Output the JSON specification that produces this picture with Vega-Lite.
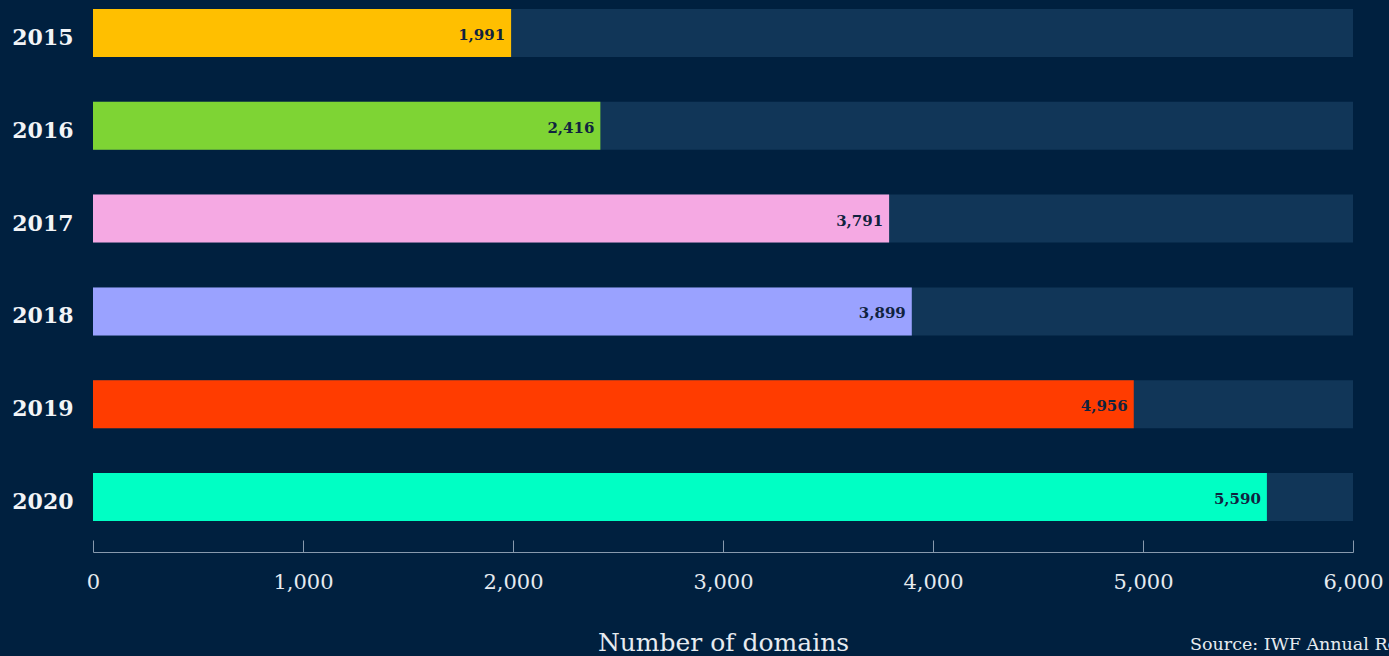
{
  "$schema": "https://vega.github.io/schema/vega-lite/v6.json",
  "width": 1260,
  "height": 530,
  "autosize": {"type": "none"},
  "padding": {"left": 93, "top": 0, "right": 36, "bottom": 126},
  "background": "#00203f",
  "config": {
    "view": {"stroke": null},
    "font": "DejaVu Serif"
  },
  "title": {
    "text": "Source: IWF Annual Report 2020",
    "orient": "bottom",
    "anchor": "start",
    "frame": "group",
    "dx": 1097,
    "offset": -19,
    "fontSize": 17.5,
    "fontWeight": "normal",
    "color": "#e6ebf0",
    "font": "DejaVu Serif"
  },
  "data": {
    "values": [
      {"year": "2015", "domains": 1991},
      {"year": "2016", "domains": 2416},
      {"year": "2017", "domains": 3791},
      {"year": "2018", "domains": 3899},
      {"year": "2019", "domains": 4956},
      {"year": "2020", "domains": 5590}
    ]
  },
  "encoding": {
    "y": {
      "field": "year",
      "type": "ordinal",
      "scale": {"paddingInner": 0.483, "paddingOuter": 0.097},
      "axis": {
        "title": null,
        "domain": false,
        "ticks": false,
        "labelPadding": 20,
        "labelOffset": 5,
        "labelFontSize": 22,
        "labelFontWeight": "bold",
        "labelColor": "#f2f4f7",
        "labelFont": "DejaVu Serif"
      }
    }
  },
  "layer": [
    {
      "mark": {"type": "bar", "color": "#113658"},
      "encoding": {
        "x": {"datum": 6000, "type": "quantitative"}
      }
    },
    {
      "mark": {"type": "bar"},
      "encoding": {
        "x": {
          "field": "domains",
          "type": "quantitative",
          "scale": {"domain": [0, 6000], "nice": false},
          "axis": {
            "title": "Number of domains",
            "titleFont": "DejaVu Serif",
            "titleFontSize": 25,
            "titleFontWeight": "normal",
            "titleColor": "#e6ebf0",
            "titlePadding": 38,
            "values": [0, 1000, 2000, 3000, 4000, 5000, 6000],
            "format": ",d",
            "offset": 22,
            "grid": false,
            "domainColor": "#8799ad",
            "tickColor": "#8799ad",
            "tickSize": -12,
            "labelPadding": 31,
            "labelFontSize": 21,
            "labelColor": "#e6ebf0",
            "labelFont": "DejaVu Serif",
            "labelFlush": false
          }
        },
        "color": {
          "field": "year",
          "type": "nominal",
          "scale": {
            "domain": ["2015", "2016", "2017", "2018", "2019", "2020"],
            "range": ["#ffbf00", "#7ed434", "#f5a9e3", "#9aa2ff", "#ff3c00", "#00ffc4"]
          },
          "legend": null
        }
      }
    },
    {
      "mark": {
        "type": "text",
        "align": "right",
        "baseline": "middle",
        "dx": -6,
        "dy": 2,
        "fontSize": 15,
        "fontWeight": "bold",
        "color": "#10233f",
        "font": "DejaVu Serif"
      },
      "encoding": {
        "x": {"field": "domains", "type": "quantitative"},
        "text": {"field": "domains", "type": "quantitative", "format": ",d"}
      }
    }
  ]
}
